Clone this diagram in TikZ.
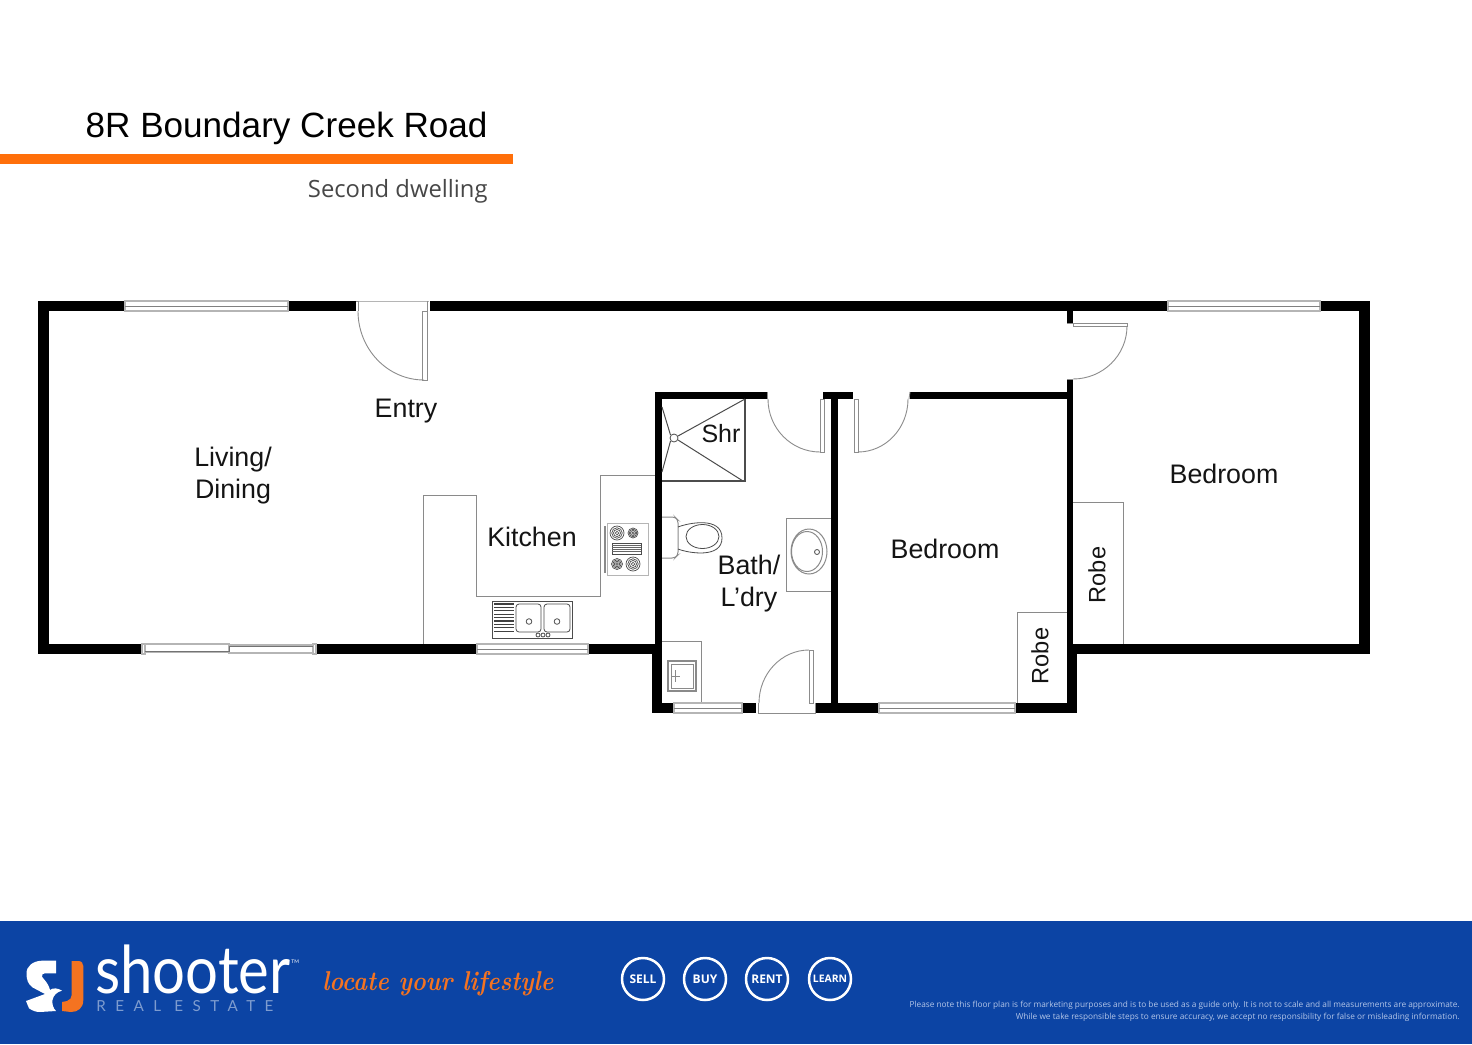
\documentclass[tikz,border=0pt]{standalone}
\usepackage{fontspec}
\setmainfont{Liberation Sans}
\newfontfamily\opensans{Open Sans}
\newfontfamily\logofont{Lato}
\newfontfamily\tagfont{Latin Modern Roman}
\definecolor{footerblue}{HTML}{0C44A4}
\definecolor{barorange}{HTML}{FF6F0A}
\definecolor{logoorange}{HTML}{F47321}
\definecolor{lineg}{HTML}{8A8A8A}
\definecolor{lightg}{HTML}{B5B5B5}
\definecolor{estate}{HTML}{7E9CCF}
\definecolor{finep}{HTML}{B4C6E8}
\tikzset{
  x=0.5pt,y=-0.5pt,
  wall/.style={fill=black},
  glass/.style={draw=lightg,line width=0.6pt,fill=white},
  glassmid/.style={draw=black!65,line width=0.5pt},
  fitting/.style={draw=lineg,line width=0.5pt},
  fine/.style={draw=black!70,line width=0.4pt},
  doorline/.style={draw=black!45,line width=0.45pt},
  room/.style={font=\fontsize{13.4pt}{16pt}\selectfont,inner sep=0pt,text=black!92},
  robe/.style={room,rotate=90,font=\fontsize{11.8pt}{14pt}\selectfont},
  pill/.style={circle,draw=white,line width=1.25pt,minimum size=21pt,inner sep=0pt,text=white,font=\opensans\bfseries\fontsize{6pt}{7pt}\selectfont},
}
\begin{document}
\begin{tikzpicture}
\useasboundingbox (0,0) rectangle (1472,1044);
\fill[white] (0,0) rectangle (1472,1044);
% heading
\node[anchor=base east,inner sep=0pt,font=\fontsize{17.55pt}{20pt}\selectfont] (title) at (488,137) {8R Boundary Creek Road};
\fill[barorange] (0,154) rectangle (513,164);
\node[anchor=base east,inner sep=0pt,text=black!72,font=\opensans\fontsize{11.9pt}{15pt}\selectfont] (sub) at (488,197) {Second dwelling};
% counters and fitted units (under walls)
\draw[fitting] (423,644) -- (423,495) -- (476,495) -- (476,596) -- (600,596) -- (600,475) -- (656,475);
\draw[fitting] (1017,703) -- (1017,612) -- (1067,612);
\draw[fitting] (1073,502) -- (1123,502) -- (1123,644);
\draw[fitting] (662,641) -- (701,641) -- (701,703);
\draw[fitting] (831,518) -- (786,518) -- (786,591) -- (831,591);
% walls
\fill[wall] (38,301) rectangle (125,311);
\fill[wall] (288,301) rectangle (356,311);
\fill[wall] (430,301) rectangle (1168,311);
\fill[wall] (1320,301) rectangle (1370,311);
\fill[wall] (38,301) rectangle (49,654);
\fill[wall] (1359,301) rectangle (1370,654);
\fill[wall] (38,644) rectangle (143,654);
\fill[wall] (316,644) rectangle (477,654);
\fill[wall] (588,644) rectangle (662,654);
\fill[wall] (1067,644) rectangle (1370,654);
\fill[wall] (655,392) rectangle (767,399);
\fill[wall] (823,392) rectangle (853,399);
\fill[wall] (910,392) rectangle (1073,399);
\fill[wall] (655,392) rectangle (662,703);
\fill[wall] (652,644) rectangle (662,713);
\fill[wall] (652,703) rectangle (674,713);
\fill[wall] (742,703) rectangle (756,713);
\fill[wall] (816,703) rectangle (879,713);
\fill[wall] (1015,703) rectangle (1077,713);
\fill[wall] (831,392) rectangle (838,703);
\fill[wall] (1067,644) rectangle (1077,713);
\fill[wall] (1067,379) rectangle (1073,644);
\fill[wall] (1067,311) rectangle (1073,323);
% windows
\foreach \a/\b/\c/\d in {125/301/288/311,1168/301/1320/311,477/644/588/654,674/703/742/713,879/703/1015/713}{
  \draw[glass] (\a,\b) rectangle (\c,\d);
  \draw[glassmid,draw=black!50] (\a,{(\b+\d)/2}) -- (\c,{(\b+\d)/2});
}
% sliding window
\draw[glass] (142,644) rectangle (145,654);
\draw[glass] (313,644) rectangle (316,654);
\draw[glass] (145,644) rectangle (229,652);
\draw[glass] (229,645) rectangle (313,653);
\draw[glassmid,draw=black!55] (145,651) -- (229,651) -- (229,646) -- (313,646);
% doors
\draw[doorline,draw=lightg] (357,301) -- (429,301);
\draw[doorline] (356,301) -- (358,301) -- (358,311);
\draw[doorline] (427,301) -- (427,311);
\draw[doorline] (422.5,380) -- (422.5,311) -- (427,311) -- (427,380) -- cycle;
\draw[doorline] (358,311) arc[start angle=180,end angle=270,x radius=66,y radius=-69];
\draw[doorline] (767,392) -- (767,399);
\draw[doorline] (820,452) -- (820,399) -- (824,399) -- (824,452) -- cycle;
\draw[doorline] (768,399) arc[start angle=180,end angle=270,x radius=52,y radius=-53];
\draw[doorline] (854,452) -- (854,399) -- (858,399) -- (858,452) -- cycle;
\draw[doorline] (908,399) arc[start angle=0,end angle=-90,x radius=50,y radius=-53];
\draw[doorline] (910,392) -- (909,399);
\draw[doorline] (809,703) -- (809,650) -- (813,650) -- (813,703) -- cycle;
\draw[doorline] (759,703) arc[start angle=180,end angle=90,x radius=50,y radius=-53];
\draw[doorline] (758,703) -- (758,713) -- (815,713) -- (815,703);
\draw[doorline] (1073,323) -- (1127,323) -- (1127,326.5) -- (1073,326.5) -- cycle;
\draw[doorline] (1127,326) arc[start angle=0,end angle=90,x radius=54,y radius=53];
\draw[doorline] (1067,323) -- (1073,323);
\draw[doorline] (1067,379) -- (1073,379);
% shower
\draw[fine,line width=0.55pt] (745,399) -- (745,481) -- (662,481);
\draw[fine,line width=0.5pt] (662,407) -- (670.5,435);
\draw[fine,line width=0.5pt] (662,472) -- (670.5,441);
\draw[fine,line width=0.5pt] (745,399) -- (678,436);
\draw[fine,line width=0.5pt] (743,481) -- (678,440);
\draw[fine,fill=white] (674,438) circle[radius=4];
% toilet
\draw[fitting,rounded corners=1.5pt] (662,517) -- (675,517) -- (678,520) -- (678,555) -- (675,558) -- (662,558);
\draw[fine] (678,527) .. controls (688,523) and (722,516) .. (722,538) .. controls (722,559) and (688,553) .. (678,549);
\draw[fine] (702.5,536.5) ellipse[x radius=16.5,y radius=12];
% basin
\draw[fitting] (809,551.5) ellipse[x radius=18,y radius=22.5];
\draw[fitting] (807,551.5) ellipse[x radius=15.5,y radius=20];
\draw[fine] (817,552) circle[radius=2.5];
% laundry tub
\draw[fitting,line width=0.7pt] (668,661) rectangle (696,691);
\draw[fitting] (671,664) rectangle (693,688);
\draw[fitting] (675,670) -- (675,682) (671,676) -- (680,676);
% sink
\draw[fine] (492,601) rectangle (572,638);
\foreach \i in {0,...,8}{\draw[black!75,line width=0.6pt] (494,{604+\i*3.4}) -- (514,{604+\i*3.4});}
\draw[fine,rounded corners=1.5pt] (516,604) rectangle (541,632);
\draw[fine,rounded corners=1.5pt] (544,604) rectangle (570,632);
\draw[fine] (529,621.5) circle[radius=2.8];
\draw[fine] (557,621.5) circle[radius=2.8];
\foreach \p in {538,543,548}{\draw[fine] (\p,635) circle[radius=2];}
% stove
\draw[fitting,draw=lightg] (607,523) rectangle (648,575);
\draw[lineg,line width=0.9pt] (605,526) -- (605,573);
\foreach \p/\q/\r in {617/533/7,633/533/5,617/564/5.5,633/564/7}{
  \foreach \s in {1,...,4}{\draw[black!70,line width=0.35pt] (\p,\q) circle[radius={\r*\s/4}];}
}
\draw[fine] (612,543) rectangle (641,554);
\foreach \i in {1,...,4}{\draw[black!60,line width=0.35pt] (612,{543+\i*2.2}) -- (641,{543+\i*2.2});}
% room labels
\node[room] (living) at (233,460) {Living/};
\node[room] (dining) at (233,492) {Dining};
\node[room] (entry) at (406,411) {Entry};
\node[room] (kitchen) at (532,537) {Kitchen};
\node[room,font=\fontsize{12.5pt}{15pt}\selectfont] (shr) at (721,434) {Shr};
\node[room] (bath) at (749,565) {Bath/};
\node[room] (ldry) at (749,600) {L’dry};
\node[room] (bed1) at (945,549) {Bedroom};
\node[room] (bed2) at (1224,474) {Bedroom};
\node[robe] (robe1) at (1040,656) {Robe};
\node[robe] (robe2) at (1097,575) {Robe};
% footer
\fill[footerblue] (0,921) rectangle (1472,1044);
% SJ mark
\fill[white] (56,960.7) -- (41.7,960.7) .. controls (33,961) and (26.5,966) .. (26.5,973.3)
  .. controls (26.5,980) and (28,984) .. (32.7,987.5) -- (45,994) -- (26,1001)
  -- (29,1008.3) .. controls (33,1011) and (36,1012) .. (40,1012) -- (56,1011)
  .. controls (53,1008) and (52,1004) .. (52.5,1000) .. controls (53.5,995) and (57,992) .. (62,990.7)
  .. controls (58,988) and (53,987.5) .. (50,990) .. controls (49,986) and (47,983) .. (46,981.7)
  -- (42,976.7) .. controls (41.5,974.5) and (43,973.3) .. (45,973.3) -- (56,973.3) -- cycle;
\fill[logoorange] (71.7,961) -- (78,961) .. controls (81.5,961) and (83.3,963) .. (83.3,966) -- (83.3,1000)
  .. controls (83.3,1008) and (78,1012) .. (71,1012) -- (62,1011) -- (62,1002) -- (67,1001)
  .. controls (70,1000) and (71.7,998) .. (71.7,995) -- cycle;
% logo text
\node[anchor=base west,inner sep=0pt,text=white,xscale=0.88,font=\logofont\fontsize{33pt}{36pt}\selectfont] (shooter) at (95,993) {shooter};
\node[anchor=base west,inner sep=0pt,text=white,font=\logofont\fontsize{2.5pt}{3pt}\selectfont] (tm) at (291,963) {TM};
\node[anchor=base west,inner sep=0pt,text=estate,font=\logofont\fontsize{7.6pt}{9pt}\selectfont\addfontfeature{LetterSpace=62}] (realestate) at (96,1011) {REAL ESTATE};
\node[anchor=base west,inner sep=0pt,text=logoorange,xscale=0.87,font=\tagfont\bfseries\itshape\fontsize{13.6pt}{18pt}\selectfont] (tag) at (322,990) {locate your lifestyle};
% round buttons
\node[pill] (sell) at (643,979) {SELL};
\node[pill] (buy) at (705,979) {BUY};
\node[pill] (rent) at (767,979) {RENT};
\node[pill,font=\opensans\bfseries\fontsize{5.2pt}{6pt}\selectfont] (learn) at (830,979) {LEARN};
% disclaimer
\node[anchor=base east,inner sep=0pt,text=finep,font=\opensans\fontsize{4.14pt}{6pt}\selectfont] (note1) at (1460,1007) {Please note this floor plan is for marketing purposes and is to be used as a guide only. It is not to scale and all measurements are approximate.};
\node[anchor=base east,inner sep=0pt,text=finep,font=\opensans\fontsize{4.14pt}{6pt}\selectfont] (note2) at (1460,1019) {While we take responsible steps to ensure accuracy, we accept no responsibility for false or misleading information.};
\end{tikzpicture}
\end{document}
